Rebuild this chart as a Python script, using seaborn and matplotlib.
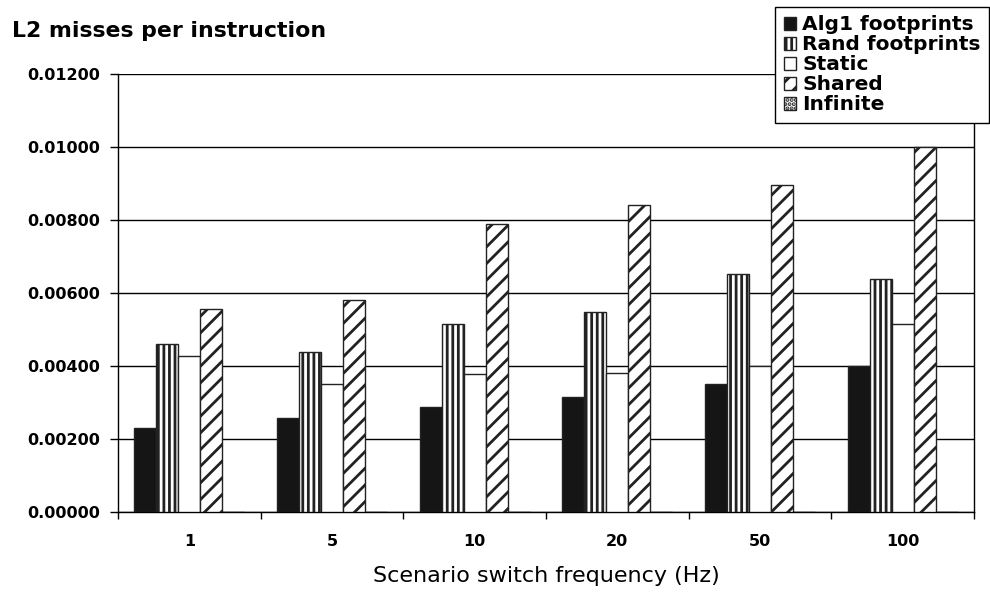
import matplotlib
matplotlib.use("Agg")
import matplotlib.pyplot as plt
import seaborn as sns
import pandas as pd
import numpy as np
from matplotlib.patches import Patch
from matplotlib.ticker import FixedLocator, FormatStrFormatter

categories = ["1", "5", "10", "20", "50", "100"]
series_names = ["Alg1 footprints", "Rand footprints", "Static", "Shared", "Infinite"]
alg1 = [0.00231, 0.00258, 0.00288, 0.00316, 0.00351, 0.00400]
rand = [0.00460, 0.00438, 0.00515, 0.00549, 0.00653, 0.00637]
static = [0.00427, 0.00351, 0.00378, 0.00382, 0.00400, 0.00516]
shared = [0.00555, 0.00580, 0.00788, 0.00841, 0.00896, 0.01000]
infinite = [0.0, 0.0, 0.0, 0.0, 0.0, 0.0]
yticks = [0.0, 0.002, 0.004, 0.006, 0.008, 0.010, 0.012]

values = [alg1, rand, static, shared, infinite]
df = pd.DataFrame({
    "freq": np.repeat([categories], len(series_names), axis=0).ravel(),
    "series": np.repeat(series_names, len(categories)),
    "value": np.concatenate(values),
})

sns.set_style("white")
plt.rcParams["font.family"] = ["DejaVu Sans"]
plt.rcParams["hatch.linewidth"] = 2.0
plt.rcParams["text.color"] = "black"
plt.rcParams["axes.labelcolor"] = "black"
plt.rcParams["xtick.color"] = "black"
plt.rcParams["ytick.color"] = "black"

styles = {
    "Alg1 footprints": dict(facecolor="#151515", hatch=""),
    "Rand footprints": dict(facecolor="white", hatch="|||"),
    "Static": dict(facecolor="white", hatch=""),
    "Shared": dict(facecolor="white", hatch="//"),
    "Infinite": dict(facecolor="white", hatch="...."),
}

fig = plt.figure(figsize=(9.9, 5.94), dpi=100)
ax = fig.add_axes([118 / 990, 1 - 512 / 594, (974 - 118) / 990, (512 - 74) / 594])

sns.barplot(data=df, x="freq", y="value", hue="series", order=categories,
            hue_order=series_names, width=0.772, ax=ax, legend=False,
            edgecolor="#222222", linewidth=1.0, saturation=1)

for name, cont in zip(series_names, ax.containers):
    for bar in cont:
        bar.set_facecolor(styles[name]["facecolor"])
        bar.set_hatch(styles[name]["hatch"])
        bar.set_edgecolor("#222222")
        bar.set_zorder(3)

ax.set_ylim(0, 0.012)
ax.set_xlim(-0.5, len(categories) - 0.5)
ax.set_yticks(yticks)
ax.yaxis.set_major_formatter(FormatStrFormatter("%.5f"))
ax.yaxis.grid(True, color="black", linewidth=1.0, zorder=0)
ax.set_axisbelow(True)
ax.tick_params(axis="y", which="major", left=True, length=6, width=1, color="black",
               pad=7, labelsize=11.5, labelcolor="black")
for lab in ax.get_yticklabels():
    lab.set_fontweight("bold")

ax.xaxis.set_minor_locator(FixedLocator(np.arange(-0.5, len(categories), 1.0)))
ax.tick_params(axis="x", which="major", length=0, pad=16, labelsize=11.5, labelcolor="black")
ax.tick_params(axis="x", which="minor", bottom=True, length=5, width=1, color="black")
for lab in ax.get_xticklabels():
    lab.set_fontweight("bold")

ax.set_xlabel("Scenario switch frequency (Hz)", fontsize=16, labelpad=12, color="black")
ax.set_ylabel("")

for side in ["left", "bottom", "right"]:
    ax.spines[side].set_visible(True)
    ax.spines[side].set_color("black")
    ax.spines[side].set_linewidth(1.0)
ax.spines["top"].set_visible(False)

fig.text(0.012, 1 - 31 / 594, "L2 misses per instruction", fontsize=15.8,
         fontweight="bold", va="center", ha="left", color="black")

handles = [Patch(facecolor=styles[n]["facecolor"], hatch=styles[n]["hatch"],
                 edgecolor="#222222", linewidth=1.0, label=n) for n in series_names]
leg = fig.legend(handles=handles, loc="upper right",
                 bbox_to_anchor=(989 / 990, 1 - 7 / 594),
                 prop=dict(weight="bold", size=14.5),
                 frameon=True, fancybox=False, edgecolor="black",
                 framealpha=1, borderpad=0.42, labelspacing=0.05,
                 handlelength=0.62, handleheight=0.62, handletextpad=0.3,
                 borderaxespad=0)
leg.get_frame().set_linewidth(1.0)
leg.set_zorder(10)
for t in leg.get_texts():
    t.set_color("black")

fig.savefig("out.png", dpi=100)
